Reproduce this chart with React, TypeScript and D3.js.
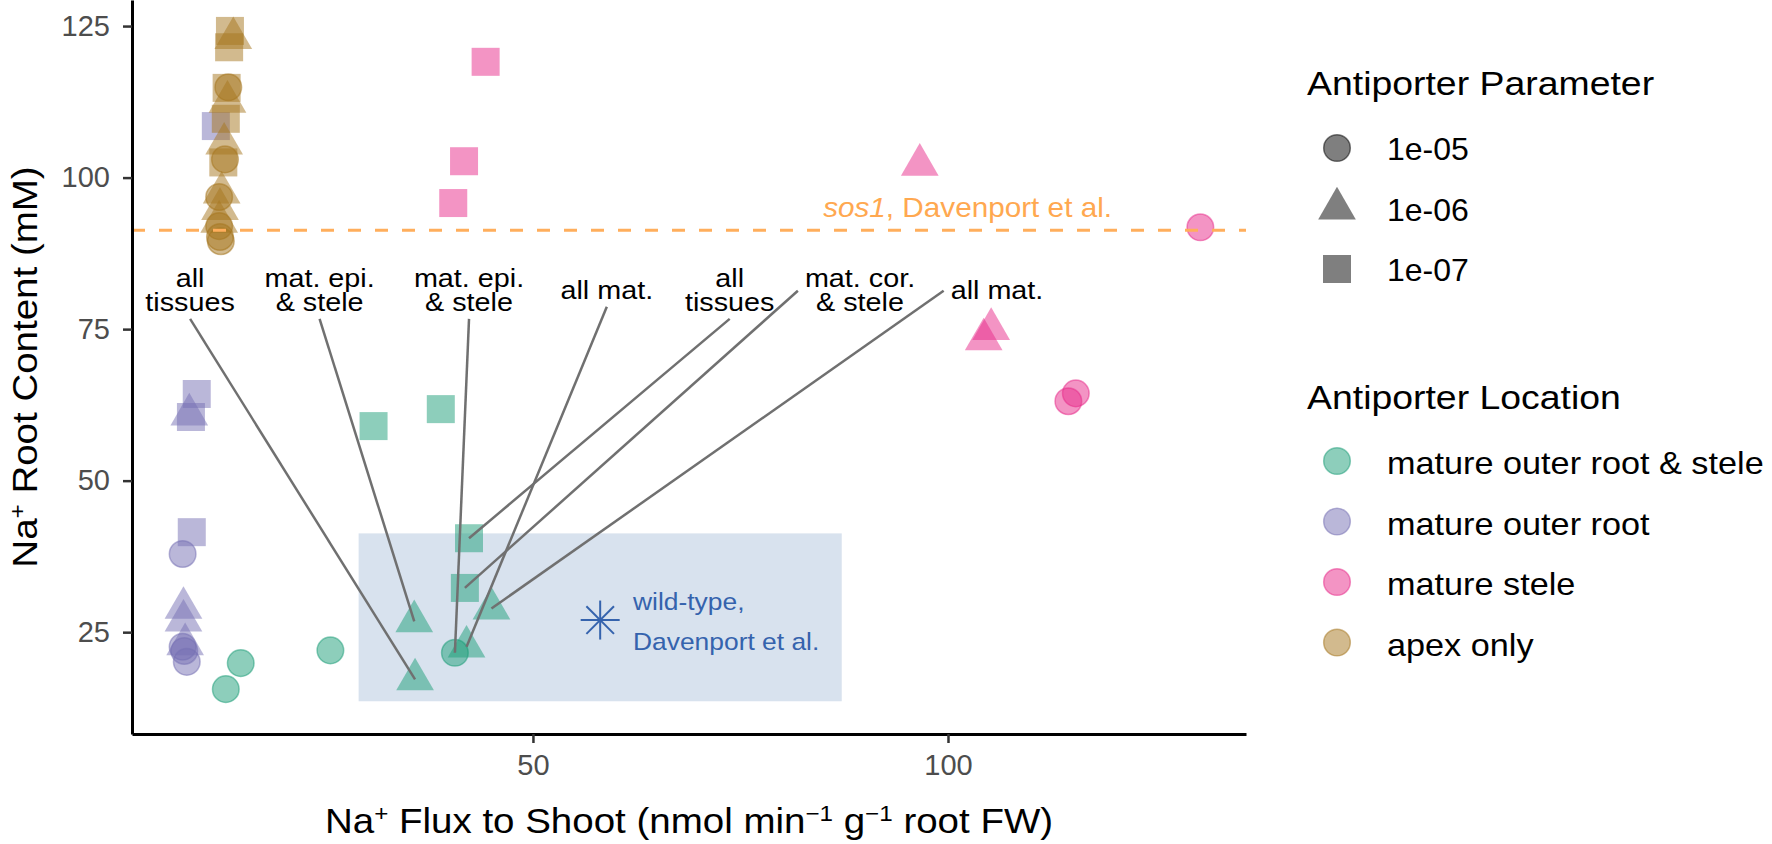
import * as d3 from 'd3';
import React, { useEffect, useRef } from 'react';

// legend groups
const locationNames = ['mature outer root & stele', 'mature outer root', 'mature stele', 'apex only'];
const locationColors = ['#1b9e77', '#7570b3', '#e7298a', '#a6761d'];
const parameterNames = ['1e-05', '1e-06', '1e-07'];

// [Na+ flux to shoot, Na+ root content, antiporter parameter]
type Pt = [number, number, string];

const outerRootStele: Pt[] = [
  [13.0, 15.6, '1e-05'],
  [14.8, 19.9, '1e-05'],
  [25.6, 22.0, '1e-05'],
  [40.6, 21.6, '1e-05'],
  [35.8, 17.2, '1e-06'],
  [35.7, 26.8, '1e-06'],
  [42.0, 22.6, '1e-06'],
  [45.0, 28.9, '1e-06'],
  [42.3, 40.5, '1e-07'],
  [41.8, 32.3, '1e-07'],
  [30.8, 59.0, '1e-07'],
  [38.9, 61.8, '1e-07'],
];

const outerRoot: Pt[] = [
  [7.8, 37.9, '1e-05'],
  [7.8, 22.6, '1e-05'],
  [8.0, 21.9, '1e-05'],
  [8.3, 20.1, '1e-05'],
  [8.6, 60.9, '1e-06'],
  [7.9, 29.0, '1e-06'],
  [7.9, 26.9, '1e-06'],
  [8.1, 23.0, '1e-06'],
  [9.5, 64.3, '1e-07'],
  [8.8, 60.5, '1e-07'],
  [8.9, 41.5, '1e-07'],
  [11.8, 108.5, '1e-07'],
];

const matureStele: Pt[] = [
  [130.4, 91.8, '1e-05'],
  [115.4, 64.4, '1e-05'],
  [114.5, 63.1, '1e-05'],
  [96.6, 102.1, '1e-06'],
  [105.2, 75.0, '1e-06'],
  [104.3, 73.3, '1e-06'],
  [44.3, 119.1, '1e-07'],
  [41.7, 102.7, '1e-07'],
  [40.4, 95.8, '1e-07'],
];

const apexOnly: Pt[] = [
  [13.3, 114.9, '1e-05'],
  [12.9, 103.0, '1e-05'],
  [12.2, 96.8, '1e-05'],
  [12.2, 92.0, '1e-05'],
  [12.3, 90.2, '1e-05'],
  [12.4, 89.5, '1e-05'],
  [13.9, 123.0, '1e-06'],
  [13.2, 112.5, '1e-06'],
  [12.8, 105.6, '1e-06'],
  [12.5, 97.5, '1e-06'],
  [12.3, 94.8, '1e-06'],
  [12.2, 92.7, '1e-06'],
  [13.5, 124.2, '1e-07'],
  [13.4, 121.5, '1e-07'],
  [13.1, 114.8, '1e-07'],
  [13.0, 109.7, '1e-07'],
  [12.7, 102.5, '1e-07'],
];

const locationPoints = [outerRootStele, outerRoot, matureStele, apexOnly];

// repelled labels pointing at the mature outer root & stele runs
const labelTexts = ['all\ntissues', 'mat. epi.\n& stele', 'mat. epi.\n& stele', 'all mat.', 'all\ntissues', 'mat. cor.\n& stele', 'all mat.'];
const labelFlux = [8.7, 24.3, 42.3, 58.9, 73.7, 89.4, 105.9];
const labelContent = [81.4, 81.4, 81.4, 81.4, 81.4, 81.4, 81.4];
const labelTarget = [4, 5, 3, 6, 8, 9, 7];
const labelSide = ['bottom', 'bottom', 'bottom', 'bottom', 'bottom', 'left', 'left'];

// reference measurements
const sos1Content = 91.3;
const wildTypeFlux = 58.1;
const wildTypeContent = 27.0;
const wildTypeBoxFlux = [29.0, 87.2];
const wildTypeBoxContent = [13.6, 41.3];

const xTicks = [50, 100];
const yTicks = [25, 50, 75, 100, 125];

const FONT = '"Liberation Sans", Arial, Helvetica, sans-serif';
const SX = 1.1;

const App: React.FC = () => {
  const ref = useRef<SVGSVGElement | null>(null);

  useEffect(() => {
    document.body.style.margin = '0';
    if (!ref.current) return;
    const svg = d3.select(ref.current);
    svg.selectAll('*').remove();

    const x = d3.scaleLinear().domain([1.7, 135.9]).range([132, 1246]);
    const y = d3.scaleLinear().domain([8.2, 129.3]).range([734, 0]);

    const symbolType: Record<string, d3.SymbolType> = {
      '1e-05': d3.symbolCircle,
      '1e-06': d3.symbolTriangle,
      '1e-07': d3.symbolSquare,
    };
    const symbolSize: Record<string, number> = { '1e-05': 556, '1e-06': 615, '1e-07': 784 };
    const symbolPath = (p: string) => d3.symbol(symbolType[p], symbolSize[p])() as string;

    // wild-type range
    svg
      .append('rect')
      .attr('x', x(wildTypeBoxFlux[0]))
      .attr('y', y(wildTypeBoxContent[1]))
      .attr('width', x(wildTypeBoxFlux[1]) - x(wildTypeBoxFlux[0]))
      .attr('height', y(wildTypeBoxContent[0]) - y(wildTypeBoxContent[1]))
      .attr('fill', '#d8e2ee');

    // points
    locationPoints.forEach((pts, i) => {
      const col = locationColors[i];
      svg
        .append('g')
        .selectAll('path')
        .data(pts)
        .join('path')
        .attr('transform', (d) => `translate(${x(d[0])},${y(d[1])})`)
        .attr('d', (d) => symbolPath(d[2]))
        .attr('fill', col)
        .attr('fill-opacity', 0.5)
        .attr('stroke', (d) => (d[2] === '1e-05' ? col : 'none'))
        .attr('stroke-opacity', 0.5)
        .attr('stroke-width', 1.5);
    });

    // sos1 reference line
    svg
      .append('line')
      .attr('x1', 132)
      .attr('x2', 1246)
      .attr('y1', y(sos1Content))
      .attr('y2', y(sos1Content))
      .attr('stroke', '#ffae5c')
      .attr('stroke-width', 3)
      .attr('stroke-dasharray', '13,14');

    const sos = svg
      .append('text')
      .attr('transform', `translate(1112,${y(sos1Content) - 13}) scale(${SX},1)`)
      .attr('text-anchor', 'end')
      .attr('font-family', FONT)
      .attr('font-size', 27)
      .attr('fill', '#ffa850');
    sos.append('tspan').attr('font-style', 'italic').text('sos1');
    sos.append('tspan').text(', Davenport et al.');

    // label segments + labels
    const segG = svg.append('g');
    const labG = svg.append('g');
    labelTexts.forEach((txt, i) => {
      const cx = x(labelFlux[i]);
      const cy = y(labelContent[i]);
      const lines = txt.split('\n');
      const g = labG.append('g');
      const t = g
        .append('text')
        .attr('transform', `translate(${cx},${cy}) scale(1.15,1)`)
        .attr('text-anchor', 'middle')
        .attr('font-family', FONT)
        .attr('font-size', 25)
        .attr('fill', '#000');
      lines.forEach((ln, j) => {
        const by = lines.length === 2 ? (j === 0 ? -3.5 : 21) : 8.8;
        t.append('tspan').attr('x', 0).attr('y', by).text(ln);
      });
      const bb = (g.node() as SVGGElement).getBBox();
      const target = outerRootStele[labelTarget[i]];
      let sx0: number;
      let sy0: number;
      if (labelSide[i] === 'left') {
        sx0 = bb.x - 7;
        sy0 = bb.y + bb.height / 2;
      } else {
        sx0 = bb.x + bb.width / 2;
        sy0 = bb.y + bb.height + 2;
      }
      segG
        .append('line')
        .attr('x1', sx0)
        .attr('y1', sy0)
        .attr('x2', x(target[0]))
        .attr('y2', y(target[1]))
        .attr('stroke', '#707070')
        .attr('stroke-width', 2.5);
    });

    // wild-type star
    const wx = x(wildTypeFlux);
    const wy = y(wildTypeContent);
    const armLen = 19.5;
    svg
      .append('g')
      .selectAll('line')
      .data(d3.range(4).map((k) => (k * Math.PI) / 4))
      .join('line')
      .attr('x1', (a) => wx - armLen * Math.cos(a))
      .attr('y1', (a) => wy - armLen * Math.sin(a))
      .attr('x2', (a) => wx + armLen * Math.cos(a))
      .attr('y2', (a) => wy + armLen * Math.sin(a))
      .attr('stroke', '#3563ad')
      .attr('stroke-width', 2);

    const wt = svg
      .append('text')
      .attr('transform', `translate(633,610) scale(${SX},1)`)
      .attr('font-family', FONT)
      .attr('font-size', 24)
      .attr('fill', '#3563ad');
    wt.append('tspan').attr('x', 0).attr('y', 0).text('wild-type,');
    wt.append('tspan').attr('x', 0).attr('y', 40).text('Davenport et al.');

    // axes
    const yAxis = svg
      .append('g')
      .attr('transform', 'translate(132,0)')
      .call(d3.axisLeft(y).tickValues(yTicks).tickSize(9).tickSizeOuter(0).tickPadding(13));
    const xAxis = svg
      .append('g')
      .attr('transform', 'translate(0,734)')
      .call(d3.axisBottom(x).tickValues(xTicks).tickSize(9).tickSizeOuter(0).tickPadding(11));
    [yAxis, xAxis].forEach((ax) => {
      ax.select('.domain').attr('stroke', '#000').attr('stroke-width', 3);
      ax.selectAll('.tick line').attr('stroke', '#333').attr('stroke-width', 2.5);
      ax.selectAll('.tick text').attr('font-size', 29).attr('font-family', FONT).attr('fill', '#4d4d4d');
    });

    const xt = svg
      .append('text')
      .attr('transform', `translate(689,833) scale(${SX},1)`)
      .attr('text-anchor', 'middle')
      .attr('font-family', FONT)
      .attr('font-size', 35);
    xt.append('tspan').text('Na');
    xt.append('tspan').attr('baseline-shift', 'super').attr('font-size', 22).text('+');
    xt.append('tspan').text(' Flux to Shoot (nmol min');
    xt.append('tspan').attr('baseline-shift', 'super').attr('font-size', 22).text('−1');
    xt.append('tspan').text(' g');
    xt.append('tspan').attr('baseline-shift', 'super').attr('font-size', 22).text('−1');
    xt.append('tspan').text(' root FW)');

    const yt = svg
      .append('text')
      .attr('transform', `translate(37,367) rotate(-90) scale(${SX},1)`)
      .attr('text-anchor', 'middle')
      .attr('font-family', FONT)
      .attr('font-size', 35);
    yt.append('tspan').text('Na');
    yt.append('tspan').attr('baseline-shift', 'super').attr('font-size', 22).text('+');
    yt.append('tspan').text(' Root Content (mM)');

    // legends
    const legend = svg.append('g').attr('font-family', FONT);
    legend
      .append('text')
      .attr('transform', `translate(1307,95) scale(${SX},1)`)
      .attr('font-size', 34)
      .text('Antiporter Parameter');
    parameterNames.forEach((p, i) => {
      const cy = 148 + i * 60.5;
      legend
        .append('path')
        .attr('transform', `translate(1337,${cy})`)
        .attr('d', symbolPath(p))
        .attr('fill', '#000')
        .attr('fill-opacity', 0.5)
        .attr('stroke', p === '1e-05' ? '#000' : 'none')
        .attr('stroke-opacity', 0.5)
        .attr('stroke-width', 1.5);
      legend
        .append('text')
        .attr('x', 1387)
        .attr('y', cy + 12)
        .attr('font-size', 32)
        .text(p);
    });

    legend
      .append('text')
      .attr('transform', `translate(1307,409) scale(${SX},1)`)
      .attr('font-size', 34)
      .text('Antiporter Location');
    locationNames.forEach((name, i) => {
      const cy = 461 + i * 60.5;
      legend
        .append('path')
        .attr('transform', `translate(1337,${cy})`)
        .attr('d', symbolPath('1e-05'))
        .attr('fill', locationColors[i])
        .attr('fill-opacity', 0.5)
        .attr('stroke', locationColors[i])
        .attr('stroke-opacity', 0.5)
        .attr('stroke-width', 1.5);
      legend
        .append('text')
        .attr('transform', `translate(1387,${cy + 13}) scale(1.07,1)`)
        .attr('font-size', 32)
        .text(name);
    });
  }, []);

  return (
    <svg
      ref={ref}
      width={1772}
      height={844}
      style={{ display: 'block', background: '#fff' }}
    />
  );
};

export default App;
